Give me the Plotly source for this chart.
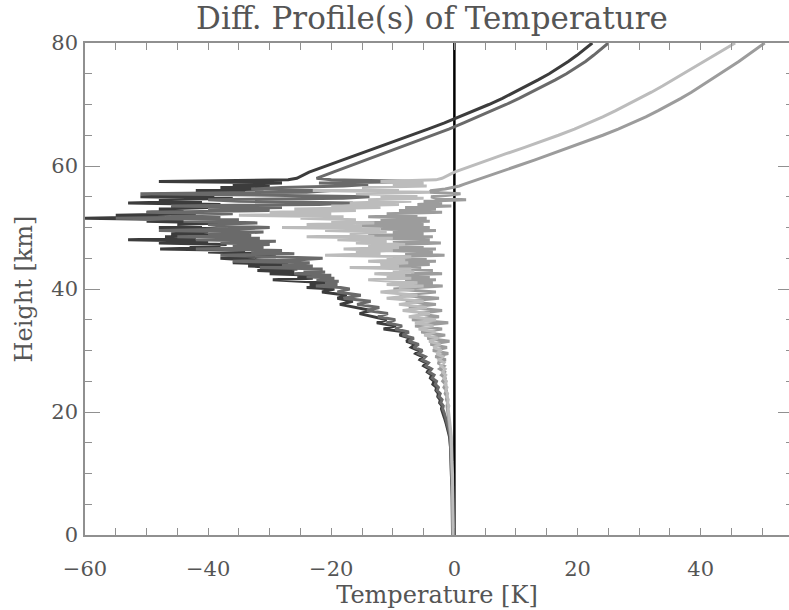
import plotly.graph_objects as go

# Heights [km]
h_low = [0, 2, 4, 6, 8, 10, 12, 14, 16, 17, 18, 19, 20]
h_mid = [20.5, 21, 21.5, 22, 22.5, 23, 23.5, 24, 24.5, 25,
         25.5, 26, 26.5, 27, 27.5, 28, 28.5, 29, 29.5, 30,
         30.5, 31, 31.5, 32, 32.5, 33, 33.5, 34, 34.5, 35,
         35.5, 36, 36.5, 37, 37.5, 38, 38.5, 39, 39.5, 40]
h_upper = [40.25, 40.5, 40.75, 41, 41.25, 41.5, 41.75, 42,
           42.25, 42.5, 42.75, 43, 43.25, 43.5, 43.75, 44,
           44.25, 44.5, 44.75, 45, 45.25, 45.5, 45.75, 46,
           46.25, 46.5, 46.75, 47, 47.25, 47.5, 47.75, 48,
           48.25, 48.5, 48.75, 49, 49.25, 49.5, 49.75, 50,
           50.25, 50.5, 50.75, 51, 51.25, 51.5, 51.75, 52,
           52.25, 52.5, 52.75, 53, 53.25, 53.5, 53.75, 54,
           54.25, 54.5, 54.75, 55, 55.25, 55.5, 55.75, 56,
           56.25, 56.5, 56.75, 57, 57.25, 57.5, 57.75, 58]
h_top = [59, 60, 61, 62, 63, 64, 65, 66, 67, 68, 69, 70,
         71, 72, 73, 74, 75, 76, 77, 78, 79, 80]
height_km = h_low + h_mid + h_upper + h_top

# Temperature differences [K]
diff_a = ([-0.3, -0.3, -0.3, -0.4, -0.4, -0.5, -0.5, -0.6, -0.8, -1.0, -1.3, -1.6, -1.9] +
          [-2.1, -2.0, -2.4, -2.3, -2.7, -2.6, -3.0, -2.9, -3.5, -3.3,
           -3.9, -3.7, -4.4, -4.1, -5.0, -4.6, -5.6, -5.2, -6.3, -5.8,
           -7.0, -6.4, -7.8, -7.1, -8.9, -8.0, -11.5, -9.5, -12.6, -11.0,
           -13.0, -15.4, -13.5, -16.0, -18.6, -16.5, -19.0, -17.5, -21.5, -19.5] +
          [-24.0, -21.0, -23.5, -20.5, -26.0, -29.5, -23.0, -25.5,
           -22.5, -30.0, -26.0, -32.0, -25.5, -29.0, -33.5, -27.0,
           -36.0, -30.0, -34.0, -38.0, -29.0, -35.0, -31.0, -40.0,
           -34.0, -47.8, -38.0, -43.0, -37.0, -48.0, -40.0, -53.0,
           -42.0, -47.0, -39.0, -46.0, -40.0, -44.0, -37.0, -48.0,
           -41.0, -45.0, -38.0, -50.0, -44.0, -60.0, -47.0, -55.0,
           -42.0, -50.0, -44.0, -48.0, -40.0, -46.0, -38.0, -53.0,
           -41.0, -48.0, -36.0, -51.0, -39.0, -45.0, -34.0, -42.0,
           -31.0, -38.0, -30.0, -36.0, -28.0, -48.0, -27.0, -25.6] +
          [-23.6, -20.8, -18.0, -15.2, -12.4, -9.7, -7.0, -4.3, -1.6, 0.9, 3.3,
           5.6, 7.8, 9.8, 11.7, 13.6, 15.4, 17.0, 18.5, 19.9, 21.2, 22.4])

diff_b = ([-0.2, -0.3, -0.3, -0.3, -0.4, -0.4, -0.5, -0.6, -0.7, -0.9, -1.1, -1.4, -1.7] +
          [-1.9, -1.8, -2.2, -2.0, -2.5, -2.3, -2.8, -2.6, -3.1, -2.9,
           -3.6, -3.3, -4.1, -3.7, -4.6, -4.2, -5.2, -4.7, -5.8, -5.2,
           -6.6, -5.8, -7.4, -6.6, -8.4, -7.4, -9.6, -8.5, -11.0, -9.6,
           -12.4, -10.8, -14.2, -12.2, -15.8, -13.6, -18.0, -15.2, -19.0, -17.0] +
          [-18.5, -22.5, -19.0, -21.0, -18.8, -22.4, -19.5, -24.0,
           -20.0, -26.0, -21.0, -24.5, -21.4, -31.6, -23.0, -28.0,
           -23.5, -36.0, -25.0, -21.4, -30.0, -38.0, -26.0, -33.0,
           -28.0, -42.0, -31.0, -36.0, -30.0, -38.0, -29.0, -42.0,
           -31.6, -45.0, -33.0, -40.0, -31.0, -48.0, -35.0, -30.0,
           -38.0, -40.0, -32.0, -44.0, -35.0, -55.0, -38.0, -46.0,
           -36.0, -50.0, -30.0, -40.0, -28.0, -46.0, -22.0, -16.5,
           -35.0, -40.0, -18.0, -13.8, -30.0, -51.0, -24.0, -20.0,
           -33.0, -28.0, -18.0, -14.0, -22.0, -5.2, -20.0, -22.4] +
          [-19.7, -17.0, -14.3, -11.6, -8.9, -6.2, -3.5, -0.9, 1.5, 3.9, 6.2,
           8.4, 10.5, 12.5, 14.5, 16.4, 18.2, 19.8, 21.3, 22.6, 23.8, 25.0])

diff_c = ([-0.2, -0.2, -0.2, -0.3, -0.3, -0.3, -0.4, -0.4, -0.5, -0.6, -0.7, -0.8, -0.9] +
          [-1.0, -0.9, -1.1, -1.0, -1.2, -1.1, -1.4, -1.2, -1.5, -1.3,
           -1.7, -1.4, -1.9, -1.5, -2.2, -1.7, -2.5, -1.9, -2.9, -2.1,
           -3.4, -2.3, -4.1, -2.7, -4.9, -3.1, -5.8, -3.4, -6.4, -3.0,
           -7.4, -4.0, -8.4, -4.5, -9.0, -5.0, -11.0, -6.0, -12.0, -6.5] +
          [-9.0, -5.0, -11.0, -6.0, -10.0, -14.0, -7.0, -11.0,
           -8.0, -13.0, -6.5, -10.0, -7.0, -17.0, -9.0, -12.0,
           -7.5, -14.0, -8.0, -11.0, -7.0, -21.0, -12.0, -16.0,
           -10.0, -18.0, -9.0, -14.0, -8.0, -16.0, -11.0, -19.0,
           -10.0, -24.0, -13.0, -17.0, -11.0, -21.0, -12.0, -28.0,
           -15.0, -24.0, -13.0, -20.0, -16.0, -25.0, -18.0, -35.0,
           -20.0, -30.0, -16.0, -26.0, -12.0, -20.0, -9.0, -17.0,
           -7.0, -14.0, -5.0, -12.0, -6.0, -16.0, -4.0, -23.0,
           -9.0, -15.0, -4.5, -10.0, -5.0, -12.0, -3.0, -2.0] +
          [0.0, 2.7, 5.5, 8.4, 11.3, 14.2, 16.9, 19.5, 21.9, 24.1, 26.2,
           28.2, 30.1, 32.0, 33.8, 35.5, 37.2, 38.9, 40.6, 42.3, 43.9, 45.6])

diff_d = ([-0.2, -0.2, -0.3, -0.3, -0.3, -0.4, -0.4, -0.5, -0.6, -0.7, -0.8, -0.9, -1.0] +
          [-1.1, -1.2, -1.1, -1.3, -1.2, -1.5, -1.3, -1.7, -1.4, -1.9,
           -1.5, -2.1, -1.6, -2.4, -1.7, -2.7, -1.4, -3.1, -1.0, -3.5,
           -1.2, -3.9, -0.8, -4.4, -1.5, -5.4, -2.0, -6.4, -1.0, -6.9,
           -2.5, -5.9, -2.0, -7.4, -3.0, -7.9, -2.5, -8.9, -3.0, -9.9] +
          [-6.0, -1.9, -7.0, -3.5, -8.0, -3.0, -9.0, -4.0,
           -10.0, -2.0, -7.0, -3.5, -9.0, -5.4, -11.0, -4.0,
           -12.0, -3.0, -9.0, -4.5, -10.0, -1.6, -8.0, -3.5,
           -11.0, -3.0, -12.0, -5.0, -9.0, -2.2, -10.0, -4.0,
           -13.0, -3.5, -14.0, -5.0, -10.0, -3.0, -12.0, -4.0,
           -15.0, -5.0, -16.0, -4.0, -12.0, -4.5, -14.0, -6.0,
           -11.0, -2.0, -9.0, -3.0, -8.0, -0.5, -6.0, -2.0,
           -5.0, 1.9, -3.0, -3.8, -1.0, 1.0, -4.0, -3.8,
           -1.5, 0.0, 0.8, 1.5, 2.2, 3.0, 3.7, 4.4] +
          [7.3, 10.2, 13.1, 15.9, 18.8, 21.5, 24.1, 26.6, 28.9, 31.1, 33.1,
           35.0, 36.8, 38.5, 40.1, 41.7, 43.2, 44.7, 46.2, 47.6, 49.0, 50.4])

series = [
    (diff_a, "#3c3c3c"),
    (diff_b, "#6a6a6a"),
    (diff_d, "#9c9c9c"),
    (diff_c, "#bcbcbc"),
]

FONT = "DejaVu Serif"
TXT = "#555555"
AX = "#909090"

fig = go.Figure()
for vals, col in series:
    fig.add_trace(go.Scatter(x=vals, y=height_km, mode="lines",
                             line=dict(color=col, width=3),
                             showlegend=False, hoverinfo="skip"))

# empty trace so the right-hand tick axis is drawn
fig.add_trace(go.Scatter(x=[], y=[], yaxis="y2", showlegend=False))

fig.add_shape(type="line", xref="x", yref="y domain", x0=0, x1=0, y0=0, y1=1,
              line=dict(color="black", width=2.5), layer="below")

fig.update_layout(
    template="none",
    width=789, height=610,
    margin=dict(l=85, r=0, t=43, b=75),
    paper_bgcolor="white", plot_bgcolor="white",
    showlegend=False,
    title=dict(text="Diff. Profile(s) of Temperature", x=0.5475, xref="container",
               xanchor="center", y=1 - 18 / 610, yref="container", yanchor="middle",
               font=dict(family=FONT, size=31, color=TXT)),
    xaxis=dict(range=[-60, 54.35], tick0=0, dtick=20, ticks="inside", ticklen=7,
               tickwidth=1, tickcolor=AX, showline=True, linecolor=AX, linewidth=1.5,
               mirror="allticks", showgrid=False, zeroline=False, automargin=False,
               minor=dict(dtick=5, ticklen=4, ticks="inside", tickcolor=AX, showgrid=False),
               ticklabelstandoff=14,
               tickfont=dict(family=FONT, size=21, color=TXT),
               title=dict(text="Temperature [K]", standoff=1,
                          font=dict(family=FONT, size=24, color=TXT))),
    yaxis=dict(range=[0, 80], tick0=0, dtick=20, ticks="inside", ticklen=15,
               tickwidth=1, tickcolor=AX, showline=True, linecolor=AX, linewidth=1.5,
               mirror=False, showgrid=False, zeroline=False, automargin=False,
               minor=dict(dtick=5, ticklen=7, ticks="inside", tickcolor=AX, showgrid=False),
               ticklabelstandoff=1,
               tickfont=dict(family=FONT, size=21, color=TXT),
               title=dict(text="Height [km]", standoff=12,
                          font=dict(family=FONT, size=24, color=TXT))),
    yaxis2=dict(range=[0, 80], overlaying="y", side="right", tick0=0, dtick=20,
                ticks="inside", ticklen=11, tickwidth=1, tickcolor=AX,
                showline=False, showgrid=False, zeroline=False, showticklabels=False,
                automargin=False,
                minor=dict(dtick=5, ticklen=3, ticks="inside", tickcolor=AX, showgrid=False)),
)

fig.write_html("out.html")
